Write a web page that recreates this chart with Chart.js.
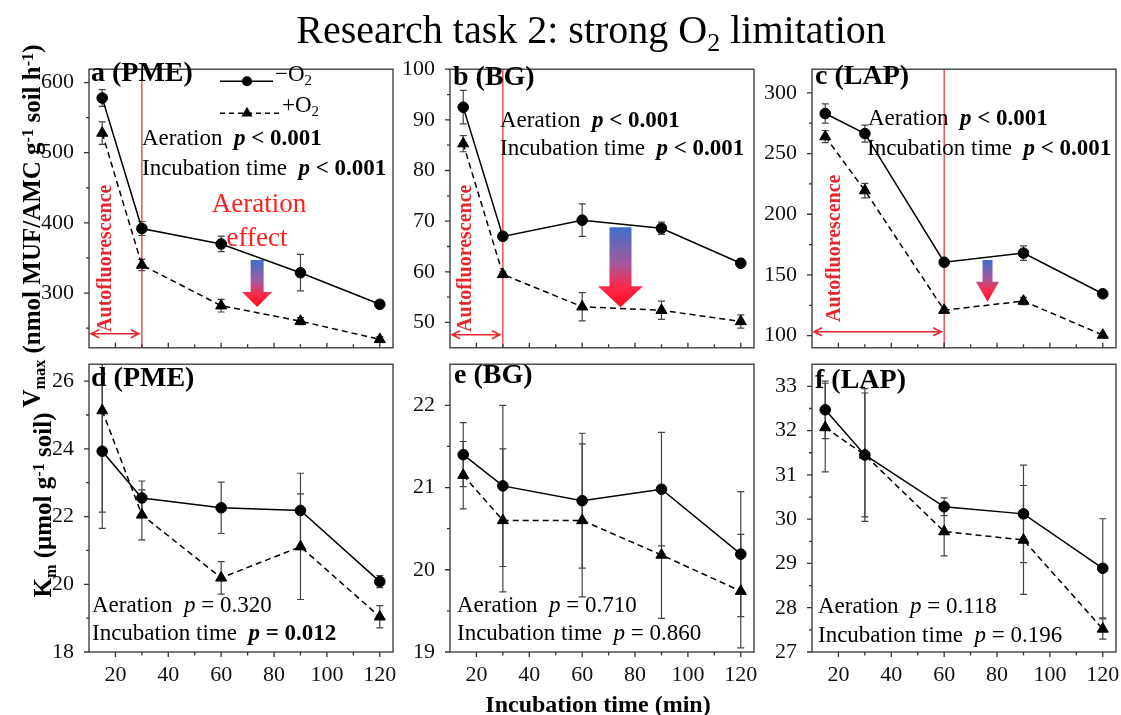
<!DOCTYPE html>
<html>
<head>
<meta charset="utf-8">
<script src="https://cdn.jsdelivr.net/npm/chart.js@4.4.0/dist/chart.umd.min.js"></script>
<style>
  body { margin: 0; width: 1121px; height: 715px; overflow: hidden; background: #fff; position: relative;
         font-family: "Liberation Serif", "Times New Roman", serif; }
  canvas { position: absolute; }
  .t { position: absolute; white-space: nowrap; line-height: 1; color: #000; }
  .b { font-weight: bold; }
  .rot { transform: translate(-50%, -50%) rotate(-90deg); }
  .ctr { transform: translateX(-50%); }
  sub, sup { font-size: 0.65em; line-height: 0; position: relative; vertical-align: baseline; }
  sub { top: 0.3em; }
  sup { top: -0.45em; }
  .red { color: #ff1f1f; }
</style>
</head>
<body>
<canvas id="pa"></canvas>
<canvas id="pb"></canvas>
<canvas id="pc"></canvas>
<canvas id="pd"></canvas>
<canvas id="pe"></canvas>
<canvas id="pf"></canvas>

<div class="t ctr" style="left:591px;top:10px;font-size:40px">Research task 2: strong O<sub>2</sub> limitation</div>
<div class="t ctr b" style="left:598px;top:692px;font-size:24px">Incubation time (min)</div>
<div class="t rot b" style="left:31px;top:226px;font-size:25px">V<sub>max</sub> (nmol MUF/AMC g<sup>-1</sup> soil h<sup>-1</sup>)</div>
<div class="t rot b" style="left:42px;top:505px;font-size:25px">K<sub>m</sub> (μmol g<sup>-1</sup> soil)</div>

<!-- panel labels -->
<div class="t b" style="left:91px;top:58px;font-size:28px">a (PME)</div>
<div class="t b" style="left:453px;top:62px;font-size:28px">b (BG)</div>
<div class="t b" style="left:815px;top:61px;font-size:28px">c (LAP)</div>
<div class="t b" style="left:91px;top:363px;font-size:28px">d (PME)</div>
<div class="t b" style="left:454px;top:360px;font-size:28px">e (BG)</div>
<div class="t b" style="left:815px;top:365px;font-size:28px">f (LAP)</div>

<!-- legend text -->
<div class="t" style="left:275px;top:62px;font-size:23px">−O<sub>2</sub></div>
<div class="t" style="left:282px;top:93px;font-size:23px">+O<sub>2</sub></div>

<!-- statistics -->
<div class="t" style="left:142px;top:126px;font-size:23px">Aeration &nbsp;<b><i>p</i> &lt; 0.001</b></div>
<div class="t" style="left:142px;top:156px;font-size:23px">Incubation time &nbsp;<b><i>p</i> &lt; 0.001</b></div>
<div class="t" style="left:500px;top:108px;font-size:23px">Aeration &nbsp;<b><i>p</i> &lt; 0.001</b></div>
<div class="t" style="left:500px;top:136px;font-size:23px">Incubation time &nbsp;<b><i>p</i> &lt; 0.001</b></div>
<div class="t" style="left:868px;top:106px;font-size:23px">Aeration &nbsp;<b><i>p</i> &lt; 0.001</b></div>
<div class="t" style="left:867px;top:136px;font-size:23px">Incubation time &nbsp;<b><i>p</i> &lt; 0.001</b></div>
<div class="t" style="left:92px;top:593px;font-size:23px">Aeration &nbsp;<i>p</i> = 0.320</div>
<div class="t" style="left:92px;top:621px;font-size:23px">Incubation time &nbsp;<b><i>p</i> = 0.012</b></div>
<div class="t" style="left:457px;top:593px;font-size:23px">Aeration &nbsp;<i>p</i> = 0.710</div>
<div class="t" style="left:457px;top:621px;font-size:23px">Incubation time &nbsp;<i>p</i> = 0.860</div>
<div class="t" style="left:818px;top:594px;font-size:23px">Aeration &nbsp;<i>p</i> = 0.118</div>
<div class="t" style="left:818px;top:623px;font-size:23px">Incubation time &nbsp;<i>p</i> = 0.196</div>

<div class="t ctr red" style="left:259px;top:190px;font-size:27px">Aeration</div>
<div class="t ctr red" style="left:257px;top:224px;font-size:27px">effect</div>

<script>
// sampling times (min)
var times = [15, 30, 60, 90, 120];
var xTicks = [20, 40, 60, 80, 100, 120];
var xMinor = [30, 50, 70, 90, 110];

// Vmax, PME
var pmeVmaxNoO2 = [578, 392, 370, 329, 284];
var pmeVmaxNoO2Err = [12, 10, 11, 26, 4];
var pmeVmaxO2 = [528, 340, 282, 260, 234];
var pmeVmaxO2Err = [16, 8, 9, 5, 4];
var pmeVmaxTicks = [300, 400, 500, 600];
var pmeVmaxMinor = [250, 350, 450, 550];

// Vmax, BG
var bgVmaxNoO2 = [92.5, 67.0, 70.2, 68.6, 61.7];
var bgVmaxNoO2Err = [3.3, 0.8, 3.2, 1.2, 0.8];
var bgVmaxO2 = [85.3, 59.5, 53.1, 52.4, 50.2];
var bgVmaxO2Err = [1.6, 0.5, 2.8, 1.8, 1.3];
var bgVmaxTicks = [50, 60, 70, 80, 90, 100];
var bgVmaxMinor = [55, 65, 75, 85, 95];

// Vmax, LAP
var lapVmaxNoO2 = [283, 266.5, 160.5, 168, 134.5];
var lapVmaxNoO2Err = [8, 7, 2, 6, 2];
var lapVmaxO2 = [264, 219.5, 121, 128.5, 100.5];
var lapVmaxO2Err = [5, 6, 2, 3, 1.5];
var lapVmaxTicks = [100, 150, 200, 250, 300];
var lapVmaxMinor = [125, 175, 225, 275];

// Km, PME
var pmeKmNoO2 = [23.93, 22.55, 22.26, 22.18, 20.08];
var pmeKmNoO2Err = [2.28, 0.5, 0.76, 1.1, 0.18];
var pmeKmO2 = [25.13, 22.05, 20.19, 21.11, 19.04];
var pmeKmO2Err = [3.0, 0.74, 0.48, 1.56, 0.33];
var pmeKmTicks = [18, 20, 22, 24, 26];
var pmeKmMinor = [19, 21, 23, 25];

// Km, BG
var bgKmNoO2 = [21.4, 21.02, 20.84, 20.98, 20.19];
var bgKmNoO2Err = [0.39, 0.98, 0.82, 0.69, 0.76];
var bgKmO2 = [21.15, 20.6, 20.6, 20.18, 19.74];
var bgKmO2Err = [0.41, 0.87, 0.93, 0.77, 0.69];
var bgKmTicks = [19, 20, 21, 22];
var bgKmMinor = [19.5, 20.5, 21.5];

// Km, LAP
var lapKmNoO2 = [32.47, 31.45, 30.28, 30.12, 28.89];
var lapKmNoO2Err = [0.65, 1.4, 0.2, 1.1, 1.12];
var lapKmO2 = [32.07, 31.45, 29.72, 29.53, 27.52];
var lapKmO2Err = [1.0, 1.5, 0.55, 1.23, 0.23];
var lapKmTicks = [27, 28, 29, 30, 31, 32, 33];
var lapKmMinor = [27.5, 28.5, 29.5, 30.5, 31.5, 32.5];

var serif = '"Liberation Serif", "Times New Roman", serif';
var red = '#e8262e';
Chart.defaults.font.family = serif;

function drawTriangle(ctx, x, y, r) {
  ctx.beginPath();
  ctx.moveTo(x, y - r);
  ctx.lineTo(x + r * 0.866, y + r * 0.5);
  ctx.lineTo(x - r * 0.866, y + r * 0.5);
  ctx.closePath();
  ctx.fill();
}

var deco = {
  id: 'deco',
  beforeDatasetsDraw: function (chart, args, o) {
    var ctx = chart.ctx, a = chart.chartArea, xs = chart.scales.x, ys = chart.scales.y;
    ctx.save();
    ctx.beginPath();
    ctx.rect(a.left, a.top, a.right - a.left, a.bottom - a.top);
    ctx.clip();

    // error bars
    ctx.strokeStyle = '#444';
    ctx.lineWidth = 1.2;
    o.errors.forEach(function (errs, i) {
      var meta = chart.getDatasetMeta(i);
      var vals = chart.data.datasets[i].data;
      meta.data.forEach(function (pt, j) {
        var y1 = ys.getPixelForValue(vals[j].y + errs[j]);
        var y2 = ys.getPixelForValue(vals[j].y - errs[j]);
        ctx.beginPath();
        ctx.moveTo(pt.x, y1); ctx.lineTo(pt.x, y2);
        ctx.moveTo(pt.x - 3.5, y1); ctx.lineTo(pt.x + 3.5, y1);
        ctx.moveTo(pt.x - 3.5, y2); ctx.lineTo(pt.x + 3.5, y2);
        ctx.stroke();
      });
    });

    if (o.auto) {
      var lx = xs.getPixelForValue(o.auto.x);
      ctx.strokeStyle = red;
      ctx.lineWidth = 1.2;
      ctx.beginPath();
      ctx.moveTo(lx, a.top); ctx.lineTo(lx, a.bottom);
      ctx.stroke();

      // double headed arrow
      var ay = a.bottom - o.auto.dy, x0 = a.left + 2, x1 = lx - 3;
      ctx.lineWidth = 1.6;
      ctx.beginPath();
      ctx.moveTo(x0, ay); ctx.lineTo(x1, ay);
      ctx.moveTo(x0 + 8, ay - 4); ctx.lineTo(x0, ay); ctx.lineTo(x0 + 8, ay + 4);
      ctx.moveTo(x1 - 8, ay - 4); ctx.lineTo(x1, ay); ctx.lineTo(x1 - 8, ay + 4);
      ctx.stroke();

      ctx.save();
      ctx.translate(a.left + o.auto.tx, a.top + o.auto.ty);
      ctx.rotate(-Math.PI / 2);
      ctx.fillStyle = red;
      ctx.font = 'bold 20px ' + serif;
      ctx.textAlign = 'center';
      ctx.textBaseline = 'alphabetic';
      ctx.fillText('Autofluorescence', 0, 0);
      ctx.restore();
    }

    if (o.arrow) {
      var g = o.arrow;
      var cx = xs.getPixelForValue(g.x);
      var top = ys.getPixelForValue(g.top);
      var tip = ys.getPixelForValue(g.tip);
      var hs = tip - g.headLen;
      var grad = ctx.createLinearGradient(0, top, 0, tip);
      grad.addColorStop(0, '#3f6fcb');
      grad.addColorStop(0.45, '#a35a9e');
      grad.addColorStop(0.75, '#ff2848');
      grad.addColorStop(1, '#ff0a1e');
      ctx.fillStyle = grad;
      ctx.beginPath();
      ctx.moveTo(cx - g.shaft / 2, top);
      ctx.lineTo(cx + g.shaft / 2, top);
      ctx.lineTo(cx + g.shaft / 2, hs);
      ctx.lineTo(cx + g.head / 2, hs);
      ctx.lineTo(cx, tip);
      ctx.lineTo(cx - g.head / 2, hs);
      ctx.lineTo(cx - g.shaft / 2, hs);
      ctx.closePath();
      ctx.fill();
    }
    ctx.restore();
  },
  afterDatasetsDraw: function (chart, args, o) {
    var ctx = chart.ctx, a = chart.chartArea, xs = chart.scales.x, ys = chart.scales.y;
    ctx.save();
    ctx.strokeStyle = '#333';
    ctx.lineWidth = 1.3;
    ctx.strokeRect(a.left, a.top, a.right - a.left, a.bottom - a.top);

    ctx.beginPath();
    o.yTicks.forEach(function (v) {
      var y = ys.getPixelForValue(v);
      ctx.moveTo(a.left, y); ctx.lineTo(a.left - 5, y);
    });
    o.yMinor.forEach(function (v) {
      var y = ys.getPixelForValue(v);
      ctx.moveTo(a.left, y); ctx.lineTo(a.left - 3, y);
    });
    var dir = o.bottomRow ? 1 : -1;
    xTicks.forEach(function (v) {
      var x = xs.getPixelForValue(v);
      ctx.moveTo(x, a.bottom); ctx.lineTo(x, a.bottom + dir * 5);
    });
    xMinor.forEach(function (v) {
      var x = xs.getPixelForValue(v);
      ctx.moveTo(x, a.bottom); ctx.lineTo(x, a.bottom + dir * 3.5);
    });
    ctx.stroke();

    if (o.legend) {
      var L = o.legend;
      ctx.strokeStyle = '#000';
      ctx.fillStyle = '#000';
      ctx.lineWidth = 1.5;
      ctx.beginPath();
      ctx.moveTo(a.left + L.x0, a.top + L.y1); ctx.lineTo(a.left + L.x1, a.top + L.y1);
      ctx.stroke();
      ctx.beginPath();
      ctx.arc(a.left + L.mx, a.top + L.y1, 5, 0, Math.PI * 2);
      ctx.fill();
      ctx.setLineDash([5, 4]);
      ctx.beginPath();
      ctx.moveTo(a.left + L.x0, a.top + L.y2); ctx.lineTo(a.left + L.x2, a.top + L.y2);
      ctx.stroke();
      ctx.setLineDash([]);
      drawTriangle(ctx, a.left + L.mx, a.top + L.y2, 6.5);
    }
    ctx.restore();
  }
};

function makePanel(id, box, yMin, yMax, yTicks, yMinor, s1, e1, s2, e2, extra) {
  var padL = 60, padT = 12, padR = 12, padB = box.bottomRow ? 40 : 12;
  var cv = document.getElementById(id);
  cv.width = box.r - box.l + padL + padR;
  cv.height = box.b - box.t + padT + padB;
  cv.style.left = (box.l - padL) + 'px';
  cv.style.top = (box.t - padT) + 'px';

  var decoOpts = {
    errors: [e1, e2],
    yTicks: yTicks,
    yMinor: yMinor,
    bottomRow: box.bottomRow,
    auto: extra.auto || null,
    arrow: extra.arrow || null,
    legend: extra.legend || null
  };

  new Chart(cv, {
    type: 'line',
    data: {
      datasets: [{
        label: '−O2',
        data: times.map(function (t, i) { return { x: t, y: s1[i] }; }),
        borderColor: '#000',
        borderWidth: 1.5,
        pointStyle: 'circle',
        pointRadius: 5.3,
        pointBackgroundColor: '#000',
        pointBorderColor: '#000',
        pointBorderWidth: 1,
        tension: 0
      }, {
        label: '+O2',
        data: times.map(function (t, i) { return { x: t, y: s2[i] }; }),
        borderColor: '#000',
        borderWidth: 1.5,
        borderDash: [6, 4],
        pointStyle: 'triangle',
        pointRadius: 6.4,
        pointBackgroundColor: '#000',
        pointBorderColor: '#000',
        pointBorderWidth: 1,
        tension: 0
      }]
    },
    options: {
      responsive: false,
      animation: false,
      devicePixelRatio: 1,
      layout: { padding: { left: 0, top: padT, right: padR, bottom: 0 } },
      plugins: { legend: { display: false }, tooltip: { enabled: false }, deco: decoOpts },
      scales: {
        x: {
          type: 'linear', min: 10, max: 125,
          grid: { display: false }, border: { display: false },
          afterBuildTicks: function (s) { s.ticks = xTicks.map(function (v) { return { value: v }; }); },
          ticks: { display: box.bottomRow, color: '#111', font: { family: serif, size: 22 }, padding: 2, maxRotation: 0, autoSkip: false },
          afterFit: function (s) { s.height = padB; }
        },
        y: {
          type: 'linear', min: yMin, max: yMax,
          grid: { display: false }, border: { display: false },
          afterBuildTicks: function (s) { s.ticks = yTicks.map(function (v) { return { value: v }; }); },
          ticks: { color: '#111', font: { family: serif, size: 22 }, padding: 7, autoSkip: false },
          afterFit: function (s) { s.width = padL; }
        }
      }
    },
    plugins: [deco]
  });
}

makePanel('pa', { l: 89, t: 61, r: 393, b: 356, bottomRow: false }, 222, 619, pmeVmaxTicks, pmeVmaxMinor,
  pmeVmaxNoO2, pmeVmaxNoO2Err, pmeVmaxO2, pmeVmaxO2Err,
  { auto: { x: 30, dy: 14, tx: 22, ty: 189 },
    arrow: { x: 73.6, top: 347, tip: 280, shaft: 13, head: 30, headLen: 15 },
    legend: { x0: 131, x1: 184, x2: 191, mx: 158, y1: 12, y2: 44 } });

makePanel('pb', { l: 450, t: 61, r: 754, b: 356, bottomRow: false }, 45, 100, bgVmaxTicks, bgVmaxMinor,
  bgVmaxNoO2, bgVmaxNoO2Err, bgVmaxO2, bgVmaxO2Err,
  { auto: { x: 30, dy: 13, tx: 21, ty: 189 },
    arrow: { x: 74.5, top: 68.8, tip: 53.0, shaft: 22, head: 45, headLen: 21 } });

makePanel('pc', { l: 812, t: 61, r: 1116, b: 356, bottomRow: false }, 90, 319.5, lapVmaxTicks, lapVmaxMinor,
  lapVmaxNoO2, lapVmaxNoO2Err, lapVmaxO2, lapVmaxO2Err,
  { auto: { x: 60, dy: 16, tx: 28, ty: 179 },
    arrow: { x: 76.4, top: 162.4, tip: 128, shaft: 10, head: 23, headLen: 20 } });

makePanel('pd', { l: 89, t: 356, r: 393, b: 652, bottomRow: true }, 18, 26.5, pmeKmTicks, pmeKmMinor,
  pmeKmNoO2, pmeKmNoO2Err, pmeKmO2, pmeKmO2Err, {});

makePanel('pe', { l: 450, t: 356, r: 754, b: 652, bottomRow: true }, 19, 22.5, bgKmTicks, bgKmMinor,
  bgKmNoO2, bgKmNoO2Err, bgKmO2, bgKmO2Err, {});

makePanel('pf', { l: 812, t: 356, r: 1116, b: 652, bottomRow: true }, 27, 33.5, lapKmTicks, lapKmMinor,
  lapKmNoO2, lapKmNoO2Err, lapKmO2, lapKmO2Err, {});
</script>
</body>
</html>
